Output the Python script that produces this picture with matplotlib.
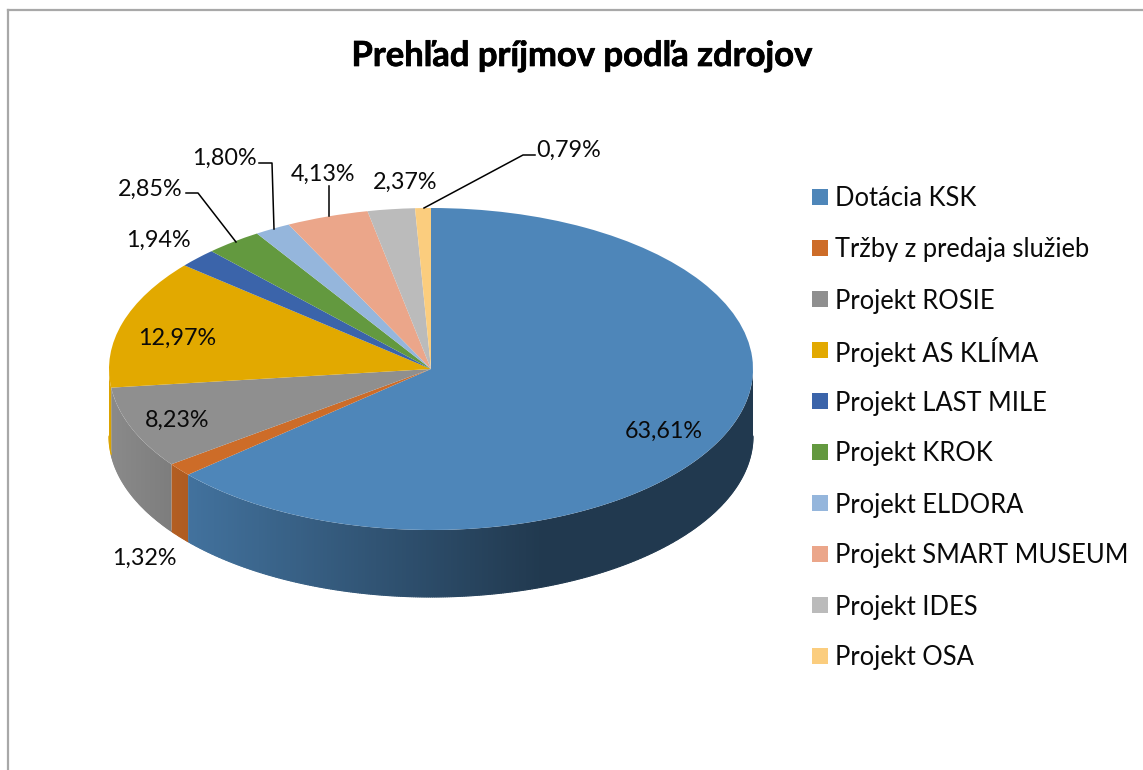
import numpy as np
import matplotlib
matplotlib.use("Agg")
import matplotlib.pyplot as plt
import matplotlib.patheffects as pe
from matplotlib.collections import LineCollection
from matplotlib.colors import ListedColormap, to_rgb
from matplotlib.patches import Polygon, Rectangle
from matplotlib.transforms import Affine2D

W, H = 1143, 770
plt.rcParams['font.family'] = ['Lato', 'DejaVu Sans']

title = "Prehľad príjmov podľa zdrojov"
categories = ["Dotácia KSK", "Tržby z predaja služieb", "Projekt ROSIE", "Projekt AS KLÍMA",
              "Projekt LAST MILE", "Projekt KROK", "Projekt ELDORA", "Projekt SMART MUSEUM",
              "Projekt IDES", "Projekt OSA"]
values = [63.61, 1.32, 8.23, 12.97, 1.94, 2.85, 1.80, 4.13, 2.37, 0.79]
colors = ["#4e86b9", "#cd6c28", "#8f8f8f", "#e2a900", "#3b64aa",
          "#63993f", "#95b6dc", "#eba68a", "#bbbbbb", "#fbcd7e"]

# layout, in reference pixels
CX, CY, RX, RY, DEPTH = 431, 369, 322, 161, 67
label_xy = [(664, 431), (144, 558), (177, 420), (177, 338), (158, 240),
            (150, 189), (224, 158), (323, 174), (405, 182), (569, 150)]
leaders = [[(186, 193), (198, 193), (236, 242)],
           [(259, 163), (272, 163), (274, 229)],
           [(329, 186), (329, 216)],
           [(424, 208), (523, 155), (535, 155)]]
LABEL_FS, LEGEND_FS, TITLE_FS = 16.8, 18.4, 24.9

fig = plt.figure(figsize=(W / 100, H / 100), dpi=100, facecolor="white")
px = Affine2D().scale(1 / W, -1 / H).translate(0, 1) + fig.transFigure

ax = fig.add_axes([0, 0, 1, 1])
wedges, _ = ax.pie(values, colors=colors, startangle=90, counterclock=False,
                   radius=1, center=(0, 0), wedgeprops=dict(linewidth=0, zorder=5))

def shade(x):
    return np.interp(x, [-1.0, -0.75, 0.34, 1.0], [0.97, 0.85, 0.43, 0.43])

# side wall of the visible front half, built from the same slice angles
d = DEPTH / RY
for w, col in zip(wedges, colors):
    lo, hi = max(w.theta1, -180), min(w.theta2, 0)
    if hi <= lo:
        continue
    t = np.radians(np.linspace(lo, hi, max(int((hi - lo) * 3), 8)))
    x, y = np.cos(t), np.sin(t)
    outline = np.r_[np.c_[x, y], np.c_[x, y - d][::-1]]
    base = np.array(to_rgb(col))
    x0, x1 = x.min(), x.max()
    grid = np.linspace(x0, x1, 256)
    cmap = ListedColormap(np.clip(base[None, :] * shade(grid)[:, None], 0, 1))
    im = ax.imshow(np.linspace(0, 1, 256)[None, :], cmap=cmap, aspect="auto", zorder=3,
                   extent=[x0, x1, (y - d).min(), y.max()], interpolation="nearest")
    im.set_clip_path(Polygon(outline, closed=True, transform=ax.transData))
    # antialiased rim over the clipped lower edge
    segs = np.stack([np.c_[x[:-1], y[:-1] - d], np.c_[x[1:], y[1:] - d]], axis=1)
    mid = (x[:-1] + x[1:]) / 2
    ax.add_collection(LineCollection(segs, colors=base[None, :] * shade(mid)[:, None],
                                     linewidths=0.8, zorder=3.5, capstyle="round"))

ax.set_aspect("auto")
ax.set_xlim((0 - CX) / RX, (W - CX) / RX)
ax.set_ylim((CY - H) / RY, CY / RY)
ax.axis("off")

for v, (lx, ly) in zip(values, label_xy):
    fig.text(lx, ly, f"{v:.2f}%".replace(".", ","), transform=px, ha="center", va="center",
             fontsize=LABEL_FS, color="#0a0a0a", zorder=10)
for seg in leaders:
    xs, ys = zip(*seg)
    fig.add_artist(plt.Line2D(xs, ys, transform=px, color="black", lw=1.1, zorder=9))

fig.text(582, 56, title, transform=px, ha="center", va="center",
         fontsize=TITLE_FS, fontweight="bold", color="black",
         path_effects=[pe.withStroke(linewidth=0.5, foreground="black")])

for i, (cat, col) in enumerate(zip(categories, colors)):
    yc = 197 + i * 51
    fig.add_artist(Rectangle((812, yc - 8), 16, 16, transform=px, facecolor=col, linewidth=0))
    fig.text(835, yc + 2, cat, transform=px, ha="left", va="center",
             fontsize=LEGEND_FS, color="#0a0a0a")

# chart frame: only the top and left edges fall inside the crop
fig.add_artist(plt.Line2D([7.5, W], [9.5, 9.5], transform=px, color="#a8a8a8", lw=1.6))
fig.add_artist(plt.Line2D([7.5, 7.5], [9.5, H], transform=px, color="#a8a8a8", lw=1.6))

fig.savefig("out.png", dpi=100, facecolor="white")
